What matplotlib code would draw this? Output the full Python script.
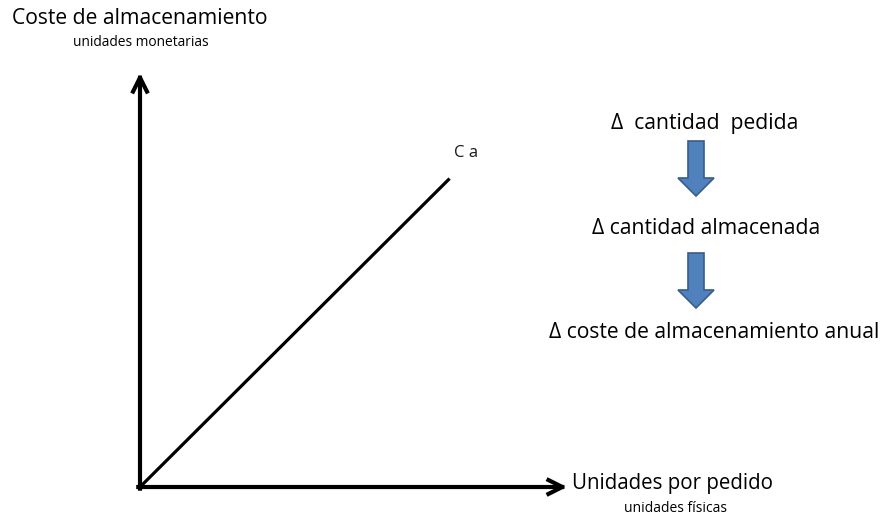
import matplotlib
matplotlib.use("Agg")
import matplotlib.pyplot as plt
from matplotlib.patches import FancyArrow

# Data (conceptual chart)
units = [0, 72.5]        # Unidades por pedido
cost = [0, 74.5]         # Coste de almacenamiento
curve_label = "C a"
y_title = "Coste de almacenamiento"
y_sub = "unidades monetarias"
x_title = "Unidades por pedido"
x_sub = "unidades físicas"
steps = ["Δ  cantidad  pedida", "Δ cantidad almacenada", "Δ coste de almacenamiento anual"]

W, H = 881, 515
fig = plt.figure(figsize=(W / 100, H / 100), dpi=100)
fig.patch.set_facecolor("white")
FONT = "Open Sans"

# overlay axes in pixel coordinates
ov = fig.add_axes([0, 0, 1, 1])
ov.set_xlim(0, W)
ov.set_ylim(H, 0)
ov.axis("off")

# main axes: origin at pixel (140, 487), x tip at 567, y tip at 73
x0, y0, x1, y1 = 140, 487, 567, 73
ax = fig.add_axes([x0 / W, (H - y0) / H, (x1 - x0) / W, (y0 - y1) / H])
ax.set_xlim(0, 100)
ax.set_ylim(0, 100)
ax.axis("off")

arrow_kw = dict(arrowstyle="->,head_length=1.0,head_width=0.5", lw=3.0, color="black",
                shrinkA=0, shrinkB=0, capstyle="projecting")
ax.annotate("", xy=(0, 100), xytext=(0, -0.4), xycoords="data", arrowprops=arrow_kw,
            annotation_clip=False)
ax.annotate("", xy=(100, 0), xytext=(-0.4, 0), xycoords="data", arrowprops=arrow_kw,
            annotation_clip=False)
ax.plot(units, cost, color="black", lw=2.3, solid_capstyle="butt", clip_on=False)
ax.text(units[1] + 1.0, cost[1] + 6.2, curve_label, fontsize=12, family=FONT,
        color="#1a1a1a", ha="left", va="center")

# axis titles
ov.text(12, 18, y_title, fontsize=15.2, family=FONT, ha="left", va="center", color="black")
ov.text(141, 43, y_sub, fontsize=9.9, family=FONT, ha="center", va="center", color="black")
ov.text(572, 484, x_title, fontsize=14.8, family=FONT, ha="left", va="center", color="black")
ov.text(676, 508, x_sub, fontsize=10, family=FONT, ha="center", va="center", color="black")

# flow on the right
ov.text(705, 124, steps[0], fontsize=15.2, family=FONT, ha="center", va="center")
ov.text(706, 228, steps[1], fontsize=15.2, family=FONT, ha="center", va="center")
ov.text(714, 332, steps[2], fontsize=15.2, family=FONT, ha="center", va="center")

for top in (141, 253):
    arr = FancyArrow(696, top, 0, 55, width=16, head_width=36, head_length=18,
                     length_includes_head=True, facecolor="#4F81BD",
                     edgecolor="#385D8A", lw=1.2)
    ov.add_patch(arr)

fig.savefig("out.png", dpi=100, facecolor="white")
